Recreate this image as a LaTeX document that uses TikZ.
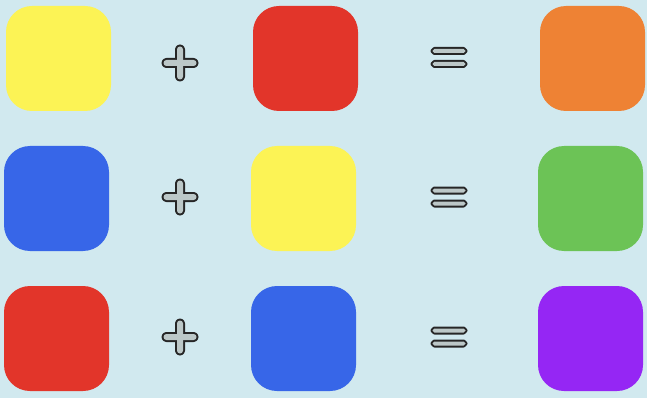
\documentclass[tikz,border=0pt]{standalone}
\usepackage{tikz}
\definecolor{bg}{HTML}{D1E9EF}
\definecolor{cyel}{HTML}{FCF355}
\definecolor{cred}{HTML}{E2352A}
\definecolor{corg}{HTML}{EE8234}
\definecolor{cblu}{HTML}{3766E8}
\definecolor{cgrn}{HTML}{6CC356}
\definecolor{cpur}{HTML}{9526F4}
\definecolor{signfill}{HTML}{BCC8C8}
\tikzset{
  sq/.style={draw=none, minimum width=105pt, minimum height=105pt, rounded corners=26pt, inner sep=0pt},
  signstroke/.style={draw=black!85, line width=4pt, line join=round},
  signfillst/.style={fill=signfill}
}
\newcommand{\plussign}[2]{%
  \begin{scope}[shift={(#1,#2)}]
    \path[signstroke, rounded corners=2.9pt] (-3,-16.5) rectangle (3,16.5);
    \path[signstroke, rounded corners=2.9pt] (-16.5,-3) rectangle (16.5,3);
    \path[signfillst, rounded corners=2.9pt] (-3,-16.5) rectangle (3,16.5);
    \path[signfillst, rounded corners=2.9pt] (-16.5,-3) rectangle (16.5,3);
  \end{scope}}
\newcommand{\eqsign}[2]{%
  \begin{scope}[shift={(#1,#2)}]
    \path[signstroke, rounded corners=1.9pt] (-16.5,4.5) rectangle (16.5,8.5);
    \path[signstroke, rounded corners=1.9pt] (-16.5,-4.5) rectangle (16.5,-8.5);
    \path[signfillst, rounded corners=1.9pt] (-16.5,4.5) rectangle (16.5,8.5);
    \path[signfillst, rounded corners=1.9pt] (-16.5,-4.5) rectangle (16.5,-8.5);
  \end{scope}}
\begin{document}
\begin{tikzpicture}[x=1pt,y=-1pt]
\fill[bg] (0,0) rectangle (647,398);
\useasboundingbox (0,0) rectangle (647,398);
% row 1
\node[sq, fill=cyel] (a1) at (58.5,58.5) {};
\node[sq, fill=cred] (b1) at (305.5,58.5) {};
\node[sq, fill=corg] (c1) at (592.5,58.5) {};
% row 2
\node[sq, fill=cblu] (a2) at (56.5,198.5) {};
\node[sq, fill=cyel] (b2) at (303.5,198.5) {};
\node[sq, fill=cgrn] (c2) at (590.5,198.5) {};
% row 3
\node[sq, fill=cred] (a3) at (56.5,338.5) {};
\node[sq, fill=cblu] (b3) at (303.5,338.5) {};
\node[sq, fill=cpur] (c3) at (590.5,338.5) {};
\plussign{180}{63}
\plussign{180}{197}
\plussign{180}{337}
\eqsign{449}{57.5}
\eqsign{449}{197}
\eqsign{449}{337}
\end{tikzpicture}
\end{document}
